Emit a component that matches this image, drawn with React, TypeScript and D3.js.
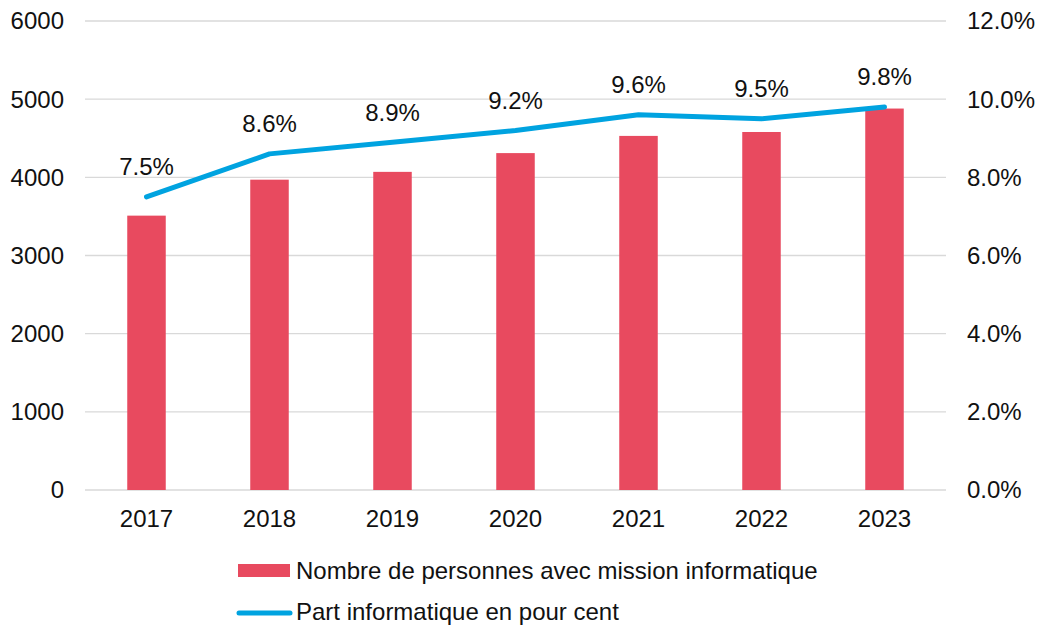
import { useEffect, useRef } from 'react';
import * as d3 from 'd3';

const years = ['2017', '2018', '2019', '2020', '2021', '2022', '2023'];
const persons = [3510, 3970, 4070, 4310, 4530, 4580, 4880];
const sharePct = [7.5, 8.6, 8.9, 9.2, 9.6, 9.5, 9.8];
const leftTicks = [0, 1000, 2000, 3000, 4000, 5000, 6000];
const rightTicks = [0, 2, 4, 6, 8, 10, 12];

const barColor = '#E84A5F';
const lineColor = '#00A3E0';

export default function App() {
  const svgRef = useRef<SVGSVGElement>(null);

  useEffect(() => {
    const width = 1040;
    const height = 628;
    const margin = { top: 21, right: 94, bottom: 138, left: 85 };
    const font = "'Liberation Sans', Arial, sans-serif";
    const fs = 24;

    const svg = d3.select(svgRef.current);
    svg.selectAll('*').remove();

    const x = d3.scaleBand()
      .domain(years)
      .range([margin.left, width - margin.right])
      .paddingInner(0.687)
      .paddingOuter(0.3435);

    const y = d3.scaleLinear().domain([0, 6000]).range([height - margin.bottom, margin.top]);
    const y2 = d3.scaleLinear().domain([0, 12]).range([height - margin.bottom, margin.top]);

    // gridlines
    svg.append('g')
      .selectAll('line')
      .data(leftTicks)
      .join('line')
      .attr('x1', margin.left)
      .attr('x2', width - margin.right)
      .attr('y1', d => y(d))
      .attr('y2', d => y(d))
      .attr('stroke', '#d9d9d9')
      .attr('stroke-width', 1.3);

    // left labels
    svg.append('g')
      .selectAll('text')
      .data(leftTicks)
      .join('text')
      .attr('x', 64)
      .attr('y', d => y(d))
      .attr('dy', '0.35em')
      .attr('text-anchor', 'end')
      .attr('font-family', font)
      .attr('font-size', fs)
      .attr('fill', '#111')
      .text(d => d);

    // right labels
    svg.append('g')
      .selectAll('text')
      .data(rightTicks)
      .join('text')
      .attr('x', 967)
      .attr('y', d => y2(d))
      .attr('dy', '0.35em')
      .attr('font-family', font)
      .attr('font-size', fs)
      .attr('fill', '#111')
      .text(d => d.toFixed(1) + '%');

    // bars
    svg.append('g')
      .selectAll('rect')
      .data(persons)
      .join('rect')
      .attr('x', (d, i) => x(years[i])!)
      .attr('width', x.bandwidth())
      .attr('y', d => y(d))
      .attr('height', d => y(0) - y(d))
      .attr('fill', barColor);

    // x labels
    svg.append('g')
      .selectAll('text')
      .data(years)
      .join('text')
      .attr('x', d => x(d)! + x.bandwidth() / 2)
      .attr('y', 519)
      .attr('dy', '0.35em')
      .attr('text-anchor', 'middle')
      .attr('font-family', font)
      .attr('font-size', fs)
      .attr('fill', '#111')
      .text(d => d);

    const cx = (i: number) => x(years[i])! + x.bandwidth() / 2;

    const line = d3.line<number>()
      .x((d, i) => cx(i))
      .y(d => y2(d));

    svg.append('path')
      .datum(sharePct)
      .attr('fill', 'none')
      .attr('stroke', lineColor)
      .attr('stroke-width', 5)
      .attr('stroke-linecap', 'round')
      .attr('stroke-linejoin', 'round')
      .attr('d', line);

    // value labels
    svg.append('g')
      .selectAll('text')
      .data(sharePct)
      .join('text')
      .attr('x', (d, i) => cx(i))
      .attr('y', d => y2(d) - 30)
      .attr('dy', '0.35em')
      .attr('text-anchor', 'middle')
      .attr('font-family', font)
      .attr('font-size', fs)
      .attr('fill', '#111')
      .text(d => d.toFixed(1) + '%');

    // legend
    const lg = svg.append('g');
    lg.append('rect')
      .attr('x', 238).attr('y', 564).attr('width', 52).attr('height', 13)
      .attr('fill', barColor);
    lg.append('text')
      .attr('x', 296).attr('y', 570.5).attr('dy', '0.35em')
      .attr('font-family', font).attr('font-size', fs).attr('fill', '#111')
      .text('Nombre de personnes avec mission informatique');
    lg.append('line')
      .attr('x1', 239).attr('x2', 290).attr('y1', 613).attr('y2', 613)
      .attr('stroke', lineColor).attr('stroke-width', 5).attr('stroke-linecap', 'round');
    lg.append('text')
      .attr('x', 296).attr('y', 612).attr('dy', '0.35em')
      .attr('font-family', font).attr('font-size', fs).attr('fill', '#111')
      .text('Part informatique en pour cent');
  }, []);

  return (
    <svg
      ref={svgRef}
      width={1040}
      height={628}
      style={{ position: 'absolute', left: 0, top: 0, background: '#fff' }}
    />
  );
}
